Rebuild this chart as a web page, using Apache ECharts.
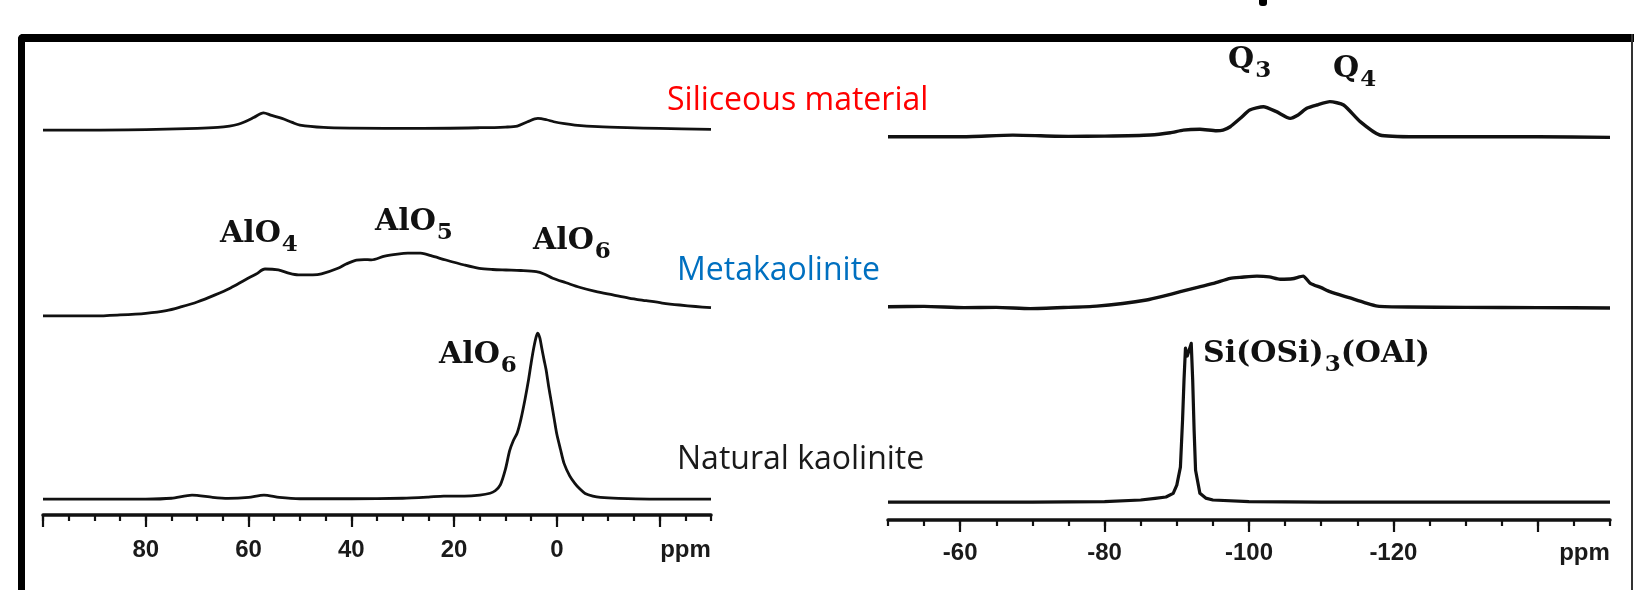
<!DOCTYPE html>
<html>
<head>
<meta charset="utf-8">
<script src="https://cdn.jsdelivr.net/npm/echarts@6/dist/echarts.min.js"></script>
<style>html,body{margin:0;padding:0;background:#fff}#c{width:1637px;height:590px}</style>
</head>
<body>
<div id="c"></div>
<script>
// ===== DATA =====
// 27Al MAS NMR (left panel), chemical shift in ppm, intensity normalised (kaolinite AlO6 peak = 100)
const alKaolPpm = [100, 90, 80, 75, 71, 67, 64, 60, 57, 54, 50, 40, 30, 25, 22, 18, 15, 13, 12, 11, 10, 9.2, 8.5, 7.7, 7, 6.2, 5.5, 5, 4.5, 4, 3.7, 3.3, 3, 2.5, 2.1, 1.6, 1.1, 0.5, 0, -0.7, -1.4, -2.5, -3.5, -4.5, -5.5, -7, -8.5, -12, -18, -25, -30];
const alKaol    = [0, 0, 0, 0.5, 2.4, 1.0, 0.4, 1.0, 2.4, 1.0, 0.2, 0.2, 0.5, 1.2, 1.8, 1.8, 2.4, 3.5, 5.0, 8.5, 18, 29, 35, 40, 48, 60, 72, 82, 91, 98, 100, 97, 92, 84, 78, 68, 59, 48, 39, 30, 21.5, 14, 9.5, 6, 3.4, 1.8, 1.0, 0.4, 0, 0, 0];

const alMetaPpm = [100, 90, 85, 80, 76, 73, 70, 66.5, 63.5, 60.7, 58.5, 56.8, 54.2, 52, 50.3, 47.5, 45.8, 42.6, 41, 39, 37.5, 36.1, 33.5, 31, 29, 26.5, 24.5, 21.6, 18, 15.1, 12.5, 9.9, 7, 4, 2.5, 0.8, -1.8, -4.4, -7.5, -10.9, -14, -17.4, -20.5, -23.9, -27, -30];
const alMeta    = [0, 0, 0.6, 1.6, 3.2, 5.6, 8.4, 12.7, 16.9, 21.7, 25.3, 28.3, 27.7, 25.6, 24.7, 24.7, 25.3, 28.7, 31.3, 33.7, 34.0, 33.8, 36.1, 37.3, 37.8, 37.8, 36.3, 33.7, 30.7, 28.7, 28.0, 27.7, 27.4, 26.7, 25.3, 22.7, 20.0, 17.3, 14.8, 12.7, 10.8, 9.2, 7.8, 6.6, 5.7, 5.0];

const alSilPpm  = [100, 90, 78, 70, 66, 63.7, 62, 60.7, 59, 57.1, 55.5, 53.5, 51.5, 50, 45.4, 40, 27, 15, 10, 7.7, 5.7, 3.7, 2, 0.6, -1.5, -3.5, -8, -13.6, -20, -30];
const alSil     = [0, 0, 0.4, 1.0, 1.6, 2.4, 3.5, 5.0, 7.5, 10.4, 8.8, 7.0, 4.6, 3.0, 1.6, 1.2, 1.0, 1.4, 1.8, 2.4, 5.0, 7.0, 6.2, 5.0, 3.8, 3.0, 2.0, 1.4, 1.0, 0.4];

// 29Si MAS NMR (right panel), intensity normalised (kaolinite Si peak = 100)
const siKaolPpm = [-50, -60, -70, -80, -85, -87, -88.5, -89.5, -90, -90.5, -90.8, -91.0, -91.2, -91.45, -91.7, -92.0, -92.2, -92.4, -92.6, -93.2, -94, -95, -100, -110, -120, -130, -140, -150];
const siKaol    = [0, 0, 0, 0.3, 1.3, 2.3, 3.2, 5.5, 10.7, 22, 52, 77, 97, 92, 93, 100, 77, 45, 20, 5.5, 2.5, 1.3, 0.3, 0, 0, 0, 0, 0];

const siMetaPpm = [-50, -55, -60.5, -65, -69.7, -75, -78.9, -82.5, -85.8, -88, -90.5, -93, -95.1, -97.4, -99, -101.1, -102.8, -104.3, -106, -107.5, -108.5, -110, -111.2, -114, -116, -117.8, -122, -130, -140, -150];
const siMeta    = [0, 0.2, -0.6, -0.4, -1.2, -0.4, 0.4, 2.0, 4.2, 6.5, 9.5, 12.4, 14.7, 17.9, 18.6, 19.3, 18.8, 17.3, 17.6, 19.3, 14.7, 12.0, 9.5, 5.5, 2.6, 0.4, -0.2, -0.4, -0.6, -0.8];

const siSilPpm  = [-50, -60, -67.3, -75, -80, -86.3, -89.1, -90.9, -93.2, -95.5, -96.4, -97.4, -98.8, -100.1, -102, -103.8, -105.7, -106.8, -108, -109.4, -111.2, -113.1, -115.4, -118.1, -123.2, -130, -140, -150];
const siSil     = [0, 0, 1.0, 0.2, 0.4, 1.1, 2.5, 4.2, 4.7, 3.8, 4.2, 6.3, 11.6, 16.8, 18.9, 15.8, 11.6, 13.7, 17.9, 20, 22.1, 20, 9.5, 1.1, 0, 0, 0, -0.4];

// axes
const alRange = [-30, 100];
const siRange = [-150, -50];
const alTickLabels = [80, 60, 40, 20, 0];
const siTickLabels = [-60, -80, -100, -120];
const alMajorTicks = [100, 80, 60, 40, 20, 0, -20];
const siMajorTicks = [-60, -80, -100, -120, -140];
const unitLabel = 'ppm';

// texts
const sampleNames = ['Siliceous material', 'Metakaolinite', 'Natural kaolinite'];
const peakLabels = [
  ['AlO', '4'], ['AlO', '5'], ['AlO', '6'], ['AlO', '6'],
  ['Q', '3'], ['Q', '4'], ['Si(OSi)', '3', '(OAl)']
];

// ===== LAYOUT / STYLE =====
const H = 590;
const panels = [
  { left: 43, width: 668, axisY: 515, top: 40, pxPerUnit: 1.66, offsets: [231.9, 119.9, 9.6], labelMargin: 23 },
  { left: 888, width: 722, axisY: 520, top: 40, pxPerUnit: 1.587, offsets: [241.5, 134.4, 11.3], labelMargin: 21 }
];
const ink = '#111';
const tickFont = { fontFamily: 'Liberation Sans', fontWeight: 'bold', fontSize: 24, color: '#1a1a1a' };

function pairs(xs, ys, off) { return xs.map((x, i) => [x, ys[i] + off]); }

const grids = panels.map(p => ({ left: p.left, width: p.width, top: p.top, bottom: H - p.axisY, containLabel: false }));
const yAxes = panels.map((p, i) => ({ type: 'value', gridIndex: i, min: 0, max: (p.axisY - p.top) / p.pxPerUnit, show: false }));

function majorAxis(gi, range, majors, labels) {
  return {
    type: 'value', gridIndex: gi, min: range[0], max: range[1], inverse: true, position: 'bottom',
    axisLine: { show: true, onZero: false, lineStyle: { color: ink, width: 3.5, cap: 'round' } },
    axisTick: { show: true, customValues: majors, length: 12, lineStyle: { color: ink, width: 2.2 } },
    axisLabel: Object.assign({
      show: true, customValues: labels.concat([range[0]]), margin: panels[gi].labelMargin,
      formatter: v => (v === range[0] ? '{u|' + unitLabel + '}' : String(v)),
      rich: { u: Object.assign({}, tickFont, { padding: [0, 51, 0, 0] }) }
    }, tickFont),
    splitLine: { show: false }
  };
}
function minorAxis(gi, range) {
  return {
    type: 'value', gridIndex: gi, min: range[0], max: range[1], interval: 5, inverse: true, position: 'bottom',
    axisLine: { show: false, onZero: false },
    axisTick: { show: true, length: 6, lineStyle: { color: ink, width: 2.2 } },
    axisLabel: { show: false }, splitLine: { show: false }
  };
}

function line(xs, ys, off, xi, yi, w, smooth) {
  return {
    type: 'line', xAxisIndex: xi, yAxisIndex: yi, data: pairs(xs, ys, off),
    symbol: 'none', smooth: smooth, silent: true, animation: false,
    lineStyle: { color: ink, width: w, join: 'round' }
  };
}

const P0 = panels[0].offsets, P1 = panels[1].offsets;
const series = [
  line(alSilPpm, alSil, P0[0], 0, 0, 2.8, 0.3),
  line(alMetaPpm, alMeta, P0[1], 0, 0, 2.8, 0.3),
  line(alKaolPpm, alKaol, P0[2], 0, 0, 2.8, 0.25),
  line(siSilPpm, siSil, P1[0], 2, 1, 3.4, 0.2),
  line(siMetaPpm, siMeta, P1[1], 2, 1, 3.4, 0.2),
  line(siKaolPpm, siKaol, P1[2], 2, 1, 3.2, false)
];

// annotation styles
const serif = { fontFamily: 'DejaVu Serif', fontWeight: 'bold', color: '#111' };
const rich = {
  m: Object.assign({}, serif, { fontSize: 30, lineHeight: 30, verticalAlign: 'top' }),
  s: Object.assign({}, serif, { fontSize: 23, lineHeight: 23, verticalAlign: 'top', padding: [15, 0, 0, 1] })
};
function chem(parts) {
  return parts.map((t, i) => (i % 2 === 0 ? '{m|' + t + '}' : '{s|' + t + '}')).join('');
}
const peakPos = [[220, 219], [375, 207], [533, 226], [439, 340], [1228, 45], [1333, 54], [1203, 339]];
const namePos = [[667, 101, '#ff0000'], [677, 271, '#0070c0'], [677, 460, '#1a1a1a']];

const graphic = [
  { type: 'rect', shape: { x: 18, y: 34, width: 1616, height: 8, r: [5, 0, 0, 0] }, style: { fill: '#000' }, silent: true },
  { type: 'rect', shape: { x: 18, y: 34, width: 7, height: 560, r: [5, 0, 0, 0] }, style: { fill: '#000' }, silent: true },
  { type: 'rect', shape: { x: 1631, y: 34, width: 2, height: 560 }, style: { fill: '#333' }, silent: true },
  { type: 'rect', shape: { x: 1259, y: 0, width: 8, height: 6, r: [0, 0, 3, 3] }, style: { fill: '#000' }, silent: true }
];
sampleNames.forEach((n, i) => {
  graphic.push({ type: 'text', x: namePos[i][0], y: namePos[i][1], silent: true,
    style: { text: n, fill: namePos[i][2], font: '32px "Open Sans"', align: 'left', verticalAlign: 'middle', textAlign: 'left', textVerticalAlign: 'middle' } });
});
peakLabels.forEach((parts, i) => {
  graphic.push({ type: 'text', x: peakPos[i][0], y: peakPos[i][1], silent: true,
    style: { text: chem(parts), rich: rich, fill: '#111', align: 'left', verticalAlign: 'top', textAlign: 'left', textVerticalAlign: 'top' } });
});

const chart = echarts.init(document.getElementById('c'), null, { renderer: 'canvas' });
chart.setOption({
  backgroundColor: '#fff',
  animation: false,
  grid: grids,
  xAxis: [
    majorAxis(0, alRange, alMajorTicks, alTickLabels), minorAxis(0, alRange),
    majorAxis(1, siRange, siMajorTicks, siTickLabels), minorAxis(1, siRange)
  ],
  yAxis: yAxes,
  series: series,
  graphic: graphic
});
</script>
</body>
</html>
